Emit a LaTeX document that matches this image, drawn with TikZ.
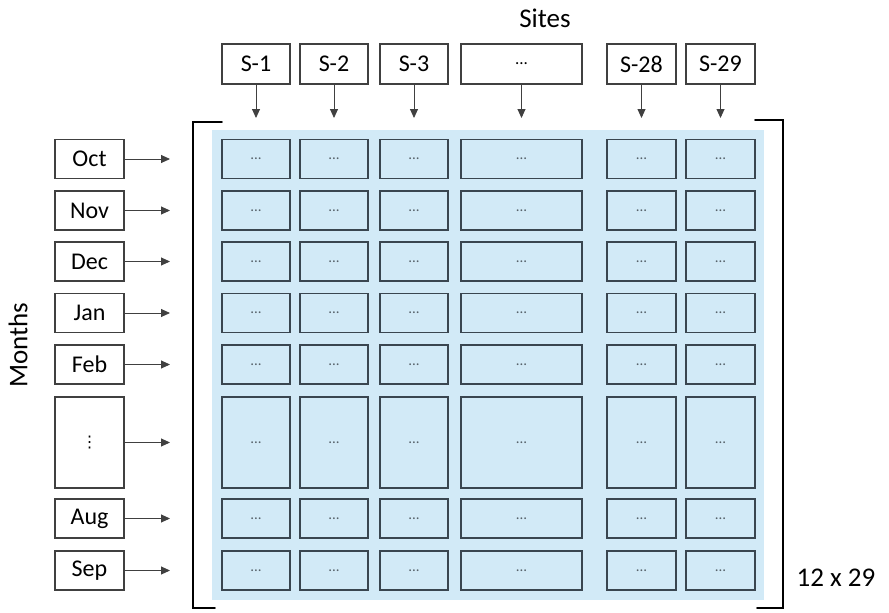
\documentclass[tikz,border=0pt]{standalone}
\usepackage{fontspec}
\setmainfont{Carlito}
\newfontfamily\symfont{DejaVu Sans}
\usetikzlibrary{arrows.meta,positioning}
\definecolor{gridbg}{RGB}{210,234,247}
\definecolor{celledge}{RGB}{58,70,80}
\tikzset{
  lbl/.style={draw=black!75,line width=1.3pt,fill=white,inner sep=0pt,font=\fontsize{24}{28}\selectfont},
  cell/.style={draw=celledge,line width=1.6pt,fill=gridbg,inner sep=0pt,text=celledge!85,font=\fontsize{15}{18}\selectfont},
  feed/.style={-{Triangle[length=9pt,width=8pt]},line width=0.9pt,draw=black!75},
  brk/.style={line width=1.6pt,line cap=round}
}

\begin{document}
\begin{tikzpicture}[x=1pt,y=-1pt]
  \useasboundingbox (0,0) rectangle (889,613);

  % titles
  \node[font=\fontsize{27}{32}\selectfont] (sites) at (545,18) {Sites};
  \node[font=\fontsize{27}{32}\selectfont,rotate=90] (months) at (18,345) {Months};
  \node[font=\fontsize{27}{32}\selectfont] (dims) at (836,578) {12 x 29};

  % matrix background and brackets
  \fill[gridbg] (212,130) rectangle (764,600);
  \draw[brk] (222,122) -- (193,122) -- (193,608) -- (215,608);
  \draw[brk] (755,120) -- (783,120) -- (783,608) -- (757,608);

  % sites
  \foreach \x/\w/\t [count=\c] in {256/68/S-1, 334/68/S-2, 414/68/S-3,
      521.5/121/{\fontsize{17}{20}\selectfont ...}, 641.5/69/S-28, 720.5/69/S-29}
  {
    \node[lbl,minimum width=\w pt,minimum height=40pt] (s\c) at (\x,64) {\t};
    \coordinate (sin\c) at (\x,118);
    \draw[feed] (s\c) -- (sin\c);
  }

  % months
  \foreach \y/\h/\t [count=\r] in {159/39/Oct, 210.5/39/Nov, 261.5/39/Dec, 313/39/Jan,
      364.5/39/Feb, 442.5/91/{\symfont\fontsize{16}{18}\selectfont ⋮}, 518.5/39/Aug, 570.5/39/Sep}
  {
    \node[lbl,minimum width=69pt,minimum height=\h pt] (m\r) at (89.5,\y) {\t};
    \coordinate (min\r) at (170,\y);
    \draw[feed] (m\r) -- (min\r);
  }

  % cells
  \foreach \y/\h [count=\r] in {159/39, 210.5/39, 261.5/39, 313/39,
      364.5/39, 442.5/91, 518.5/39, 570.5/39}
    \foreach \x/\w [count=\c] in {256/68, 334/68, 414/68, 521.5/121, 641.5/69, 720.5/69}
      \node[cell,minimum width=\w pt,minimum height=\h pt] (c\r-\c) at (\x,\y) {...};
\end{tikzpicture}
\end{document}
